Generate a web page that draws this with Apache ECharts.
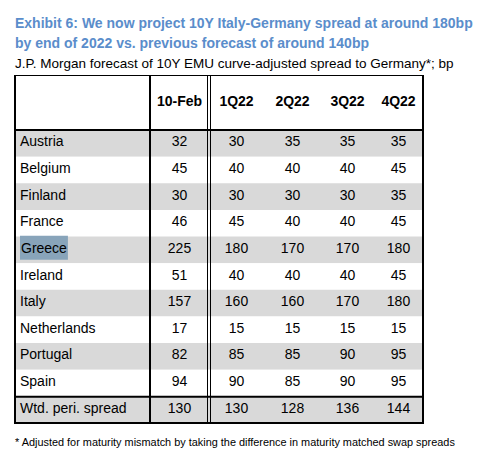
<!DOCTYPE html>
<html>
<head>
<meta charset="utf-8">
<script src="https://cdn.jsdelivr.net/npm/echarts@6/dist/echarts.min.js"></script>
<style>
  html, body { margin: 0; padding: 0; background: #fff; }
  #chart { width: 485px; height: 468px; }
</style>
</head>
<body>
<div id="chart"></div>
<script>
// ---- Data ----
const rowLabels = ['Austria', 'Belgium', 'Finland', 'France', 'Greece', 'Ireland', 'Italy', 'Netherlands', 'Portugal', 'Spain', 'Wtd. peri. spread'];
const columnHeaders = ['10-Feb', '1Q22', '2Q22', '3Q22', '4Q22'];
const feb10 = [32, 45, 30, 46, 225, 51, 157, 17, 82, 94, 130];
const q1_22 = [30, 40, 30, 45, 180, 40, 160, 15, 85, 90, 130];
const q2_22 = [35, 40, 30, 40, 170, 40, 160, 15, 85, 85, 128];
const q3_22 = [35, 40, 30, 40, 170, 40, 170, 15, 90, 90, 136];
const q4_22 = [35, 45, 35, 45, 180, 45, 180, 15, 95, 95, 144];
const columnValues = [feb10, q1_22, q2_22, q3_22, q4_22];
const highlightedRow = 'Greece';

const titleText = 'Exhibit 6: We now project 10Y Italy-Germany spread at around 180bp\nby end of 2022 vs. previous forecast of around 140bp';
const subtitleText = 'J.P. Morgan forecast of 10Y EMU curve-adjusted spread to Germany*; bp';
const footnoteText = '* Adjusted for maturity mismatch by taking the difference in maturity matched swap spreads';

// ---- Layout ----
const FONT = '"Liberation Sans", Arial, Helvetica, sans-serif';
const colEdges = [15, 150, 209, 264, 321, 374, 423];
const tableTop = 75.5, headerBottom = 130, tableBottom = 423;
const GRAY = '#D9D9D9';

const grids = [], xAxes = [], yAxes = [], series = [];
const headers = [''].concat(columnHeaders);
for (let i = 0; i < headers.length; i++) {
  grids.push({ left: colEdges[i], top: headerBottom, width: colEdges[i + 1] - colEdges[i], height: tableBottom - headerBottom, containLabel: false });
  xAxes.push({
    gridIndex: i, type: 'category', position: 'top', data: [headers[i]],
    axisLine: { show: false }, axisTick: { show: false }, splitLine: { show: false },
    axisLabel: { interval: 0, margin: 29, verticalAlign: 'middle', color: '#000', fontWeight: 'bold', fontSize: 14, fontFamily: FONT }
  });
  yAxes.push({ gridIndex: i, type: 'category', data: rowLabels, inverse: true, show: false });
}

function bandRect(c, s, row) {
  return { type: 'rect', shape: { x: c[0] - s[0] / 2, y: c[1] - s[1] / 2, width: s[0], height: s[1] }, style: { fill: row % 2 === 0 ? GRAY : '#ffffff' }, silent: true };
}

// label column
series.push({
  type: 'custom', xAxisIndex: 0, yAxisIndex: 0,
  data: rowLabels.map((l, i) => [0, i]),
  encode: { x: 0, y: 1 },
  renderItem: function (params, api) {
    const row = api.value(1);
    const c = api.coord([api.value(0), row]);
    const s = api.size([1, 1]);
    const label = rowLabels[row];
    const txtStyle = { text: label, fill: '#000', font: '14px ' + FONT, align: 'left', verticalAlign: 'middle', textAlign: 'left', textVerticalAlign: 'middle' };
    if (label === highlightedRow) {
      txtStyle.backgroundColor = '#88A4BA';
      txtStyle.padding = [5, 1, 5, 1];
    }
    return { type: 'group', children: [
      bandRect(c, s, row),
      { type: 'text', x: c[0] - s[0] / 2 + 5, y: c[1] - 2, style: txtStyle }
    ]};
  }
});

// numeric columns
for (let k = 0; k < columnValues.length; k++) {
  const vals = columnValues[k];
  series.push({
    type: 'custom', xAxisIndex: k + 1, yAxisIndex: k + 1,
    data: vals.map((v, i) => [0, i, v]),
    encode: { x: 0, y: 1 },
    renderItem: function (params, api) {
      const row = api.value(1);
      const c = api.coord([api.value(0), row]);
      const s = api.size([1, 1]);
      return { type: 'group', children: [
        bandRect(c, s, row),
        { type: 'text', x: c[0], y: c[1] - 2, style: { text: String(api.value(2)), fill: '#000', font: '14px ' + FONT, align: 'center', verticalAlign: 'middle', textAlign: 'center', textVerticalAlign: 'middle' } }
      ]};
    }
  });
}

function line(x1, y1, x2, y2, w) {
  return { type: 'line', shape: { x1: x1, y1: y1, x2: x2, y2: y2 }, style: { stroke: '#000', lineWidth: w }, z: 100, silent: true };
}
const L = colEdges[0], R = colEdges[colEdges.length - 1];
const rowH = (tableBottom - headerBottom) / rowLabels.length;
const lastRowTop = tableBottom - rowH;
const borders = [
  line(L - 1, tableTop, R + 1, tableTop, 1),
  line(L, tableTop - 0.5, L, tableBottom + 1, 2),
  line(R, tableTop - 0.5, R, tableBottom + 1, 2),
  line(colEdges[1], tableTop, colEdges[1], tableBottom, 2),
  line(207.5, tableTop, 207.5, tableBottom, 1),
  line(210.5, tableTop, 210.5, tableBottom, 1),
  line(L - 1, headerBottom, R + 1, headerBottom, 2),
  line(L - 1, lastRowTop + 0.5, R + 1, lastRowTop + 0.5, 2),
  line(L - 1, tableBottom, R + 1, tableBottom, 2)
];

const chart = echarts.init(document.getElementById('chart'), null, { renderer: 'svg', width: 485, height: 468 });
chart.setOption({
  backgroundColor: '#ffffff',
  animation: false,
  title: [
    { text: titleText, left: 15, top: 13, padding: 0, textStyle: { fontFamily: FONT, fontSize: 14, fontWeight: 'bold', color: '#5A8DCB', lineHeight: 20 } },
    { text: subtitleText, left: 15, top: 55, padding: 0, textStyle: { fontFamily: FONT, fontSize: 13.5, fontWeight: 'normal', color: '#000', lineHeight: 16 } },
    { text: footnoteText, left: 15, top: 435, padding: 0, textStyle: { fontFamily: FONT, fontSize: 10.9, fontWeight: 'normal', color: '#000', lineHeight: 14 } }
  ],
  grid: grids,
  xAxis: xAxes,
  yAxis: yAxes,
  series: series,
  graphic: borders
});
</script>
</body>
</html>
